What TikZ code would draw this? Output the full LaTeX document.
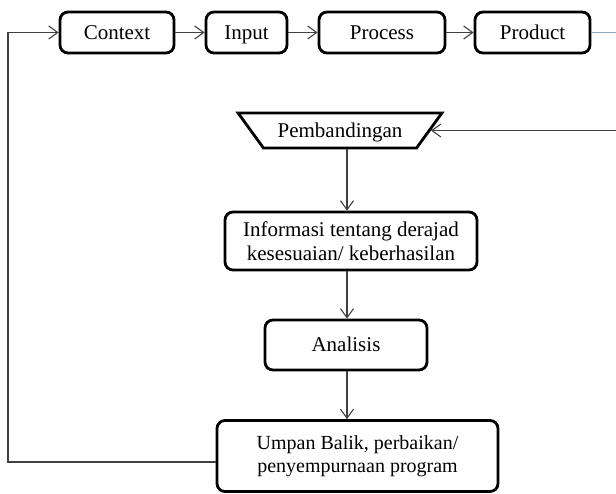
\documentclass[tikz,border=0pt]{standalone}
\usepackage{fontspec}
\setmainfont{Liberation Serif}
\usepackage{tikz}
\usetikzlibrary{arrows.meta}
\usetikzlibrary{shapes.geometric}
\definecolor{lineg}{RGB}{64,64,64}
\definecolor{lineb}{RGB}{140,168,198}
\tikzset{
  box/.style={draw=black, line width=2.8pt, rounded corners=8pt, fill=white,
    inner sep=0pt, align=center, font=\fontsize{21}{24}\selectfont},
  oneline/.style={text height=18pt, text depth=5pt},
  conn/.style={draw=lineg, line width=1.1pt, -{Straight Barb[length=9pt,width=13pt]}},
  topline/.style={draw=lineb, line width=1.1pt}
}

\begin{document}
\begin{tikzpicture} [x=1pt, y=-1pt]
\useasboundingbox (0,0) rectangle (616,493);
% top row: CIPP
\node[box, oneline, minimum width=114pt, minimum height=41pt] (context) at (117,32.5) {Context};
\node[box, oneline, minimum width=81pt,  minimum height=41pt] (input)   at (246.5,32.5) {Input};
\node[box, oneline, minimum width=126pt, minimum height=41pt] (process) at (382,32.5) {Process};
\node[box, oneline, minimum width=115pt, minimum height=41pt] (product) at (532.5,32.5) {Product};
% comparison and evaluation chain
\node[box, oneline, rounded corners=0pt, trapezium, shape border rotate=180, trapezium stretches=true,
  trapezium angle=48, minimum width=204pt, minimum height=35pt] (banding) at (340,130.5) {Pembandingan};
\node[box, minimum width=252pt, minimum height=58pt] (info) at (351,241)
  {Informasi tentang derajad\\kesesuaian/ keberhasilan};
\node[box, oneline, minimum width=162pt, minimum height=50pt] (analisis) at (346,345) {Analisis};
\node[box, minimum width=281pt, minimum height=71pt, font=\fontsize{20}{23}\selectfont] (umpan) at (357.5,456)
  {Umpan Balik, perbaikan/\\penyempurnaan program};
\coordinate (spine) at (347,0);
\coordinate (fbL) at (8,0);
\coordinate (fbR) at (616,132);
\draw[conn] (context) -- (input);
\draw[conn] (input) -- (process);
\draw[conn] (process) -- (product);
\draw[topline] (product.east) -- (product.east -| fbR);
\draw[conn] (fbR |- banding.east) -- (banding.east);
\draw[conn] (banding.south -| spine) -- (info.north -| spine);
\draw[conn] (info.south -| spine) -- (analisis.north -| spine);
\draw[conn] (analisis.south -| spine) -- (umpan.north -| spine);
% feedback loop
\draw[conn] ([yshift=-6pt]umpan.west) -| (fbL |- context.west) -- (context.west);
\end{tikzpicture}
\end{document}
